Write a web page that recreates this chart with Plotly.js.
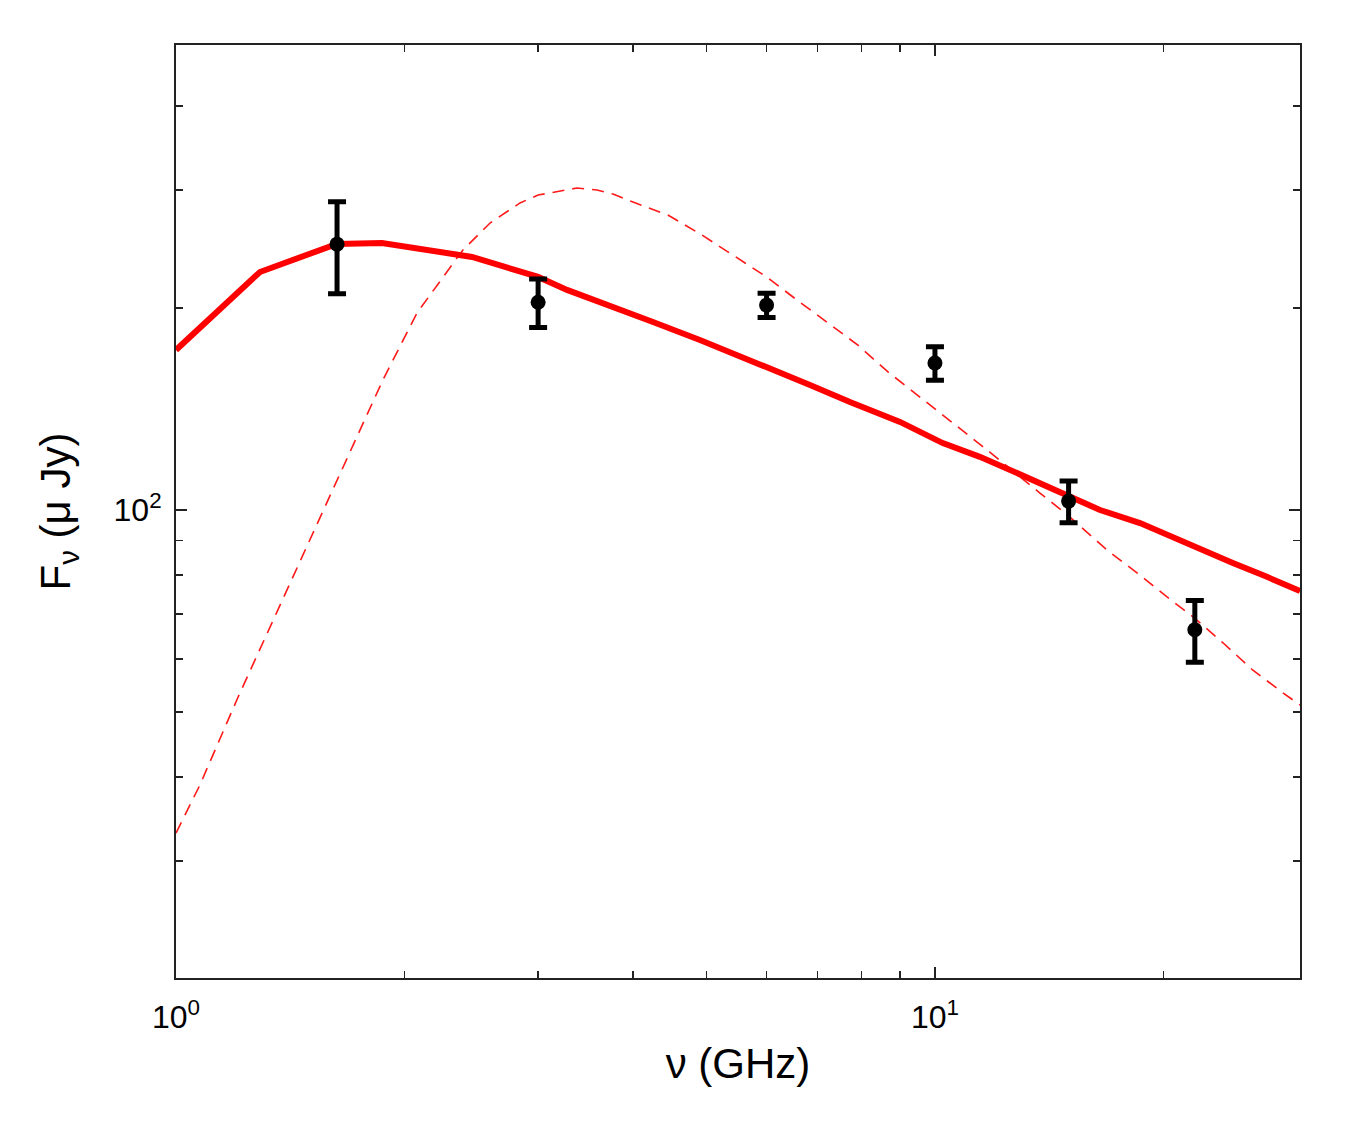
<!DOCTYPE html>
<html>
<head>
<meta charset="utf-8">
<script src="https://cdn.plot.ly/plotly-3.0.1.min.js"></script>
<style>html,body{margin:0;padding:0;background:#fff;}</style>
</head>
<body>
<div id="chart" style="width:1353px;height:1134px;"></div>
<script>
// Observed flux densities
const freqObs = [1.63, 3.0, 6.0, 10.0, 15.0, 22.0];
const fluxObs = [249, 204, 202, 165.6, 103.1, 66.3];
const fluxErr = [39, 17, 8.4, 9.5, 7.4, 7.0];

// Solid model curve
const freqModel = [1.0, 1.29, 1.629, 1.868, 2.455, 3.0, 3.275, 3.811, 4.251, 4.901, 5.705, 6.249, 6.844, 7.727, 8.994, 10.24, 11.46, 12.83, 15.06, 16.5, 18.63, 21.21, 24.69, 27.38, 30.27];
const fluxModel = [173.2, 226.3, 249.2, 250.0, 238.3, 222.5, 212.8, 200.0, 190.6, 179.2, 167.3, 160.6, 153.6, 144.9, 135.3, 125.8, 120.0, 113.5, 104.6, 100.0, 95.6, 89.6, 83.4, 79.5, 75.7];

// Dashed model curve
const freqDash = [1.0, 1.075, 1.207, 1.33, 1.4, 1.501, 1.576, 1.873, 2.078, 2.388, 2.593, 2.84, 3.0, 3.376, 3.586, 3.765, 4.001, 4.448, 4.932, 5.418, 6.0, 6.579, 7.228, 7.915, 8.672, 9.469, 10.37, 11.81, 13.75, 15.06, 16.85, 18.46, 20.22, 21.88, 23.96, 26.24, 28.74, 30.27];
const fluxDash = [33.0, 38.9, 52.6, 66.9, 76.0, 90.2, 102.1, 156.2, 196.7, 244.1, 267.7, 286.8, 294.7, 301.9, 299.8, 295.7, 287.7, 275.2, 256.9, 239.9, 222.5, 205.6, 189.9, 176.1, 160.6, 148.4, 137.1, 122.0, 106.0, 97.6, 87.2, 80.6, 74.2, 69.3, 63.4, 57.7, 53.4, 51.2];

// Axis ticks
const xTickVals = [1, 10];
const xTickText = ['10<sup>0</sup>', '10<sup>1</sup>'];
const xMinorVals = [2, 3, 4, 5, 6, 7, 8, 9, 20];
const yTickVals = [100];
const yTickText = ['10<sup>2</sup>'];
const yMinorVals = [30, 40, 50, 60, 70, 80, 90, 200, 300, 400];

const traces = [
  {
    x: freqDash, y: fluxDash, type: 'scatter', mode: 'lines',
    line: {color: '#ff1a1a', width: 1.6, dash: '12px,8px'},
    hoverinfo: 'skip'
  },
  {
    x: freqModel, y: fluxModel, type: 'scatter', mode: 'lines',
    line: {color: '#ff0000', width: 6},
    hoverinfo: 'skip'
  },
  {
    x: freqObs, y: fluxObs, type: 'scatter', mode: 'markers',
    marker: {color: '#000', size: 15},
    error_y: {type: 'data', array: fluxErr, visible: true, color: '#000', thickness: 5, width: 9}
  }
];

const font = 'Liberation Sans, Arial, Helvetica, sans-serif';

const layout = {
  width: 1353, height: 1134,
  margin: {l: 176, r: 53, t: 45, b: 156},
  paper_bgcolor: '#fff', plot_bgcolor: '#fff',
  showlegend: false,
  font: {family: font, color: '#000', size: 32},
  xaxis: {
    type: 'log', range: [0, 1.481],
    tickmode: 'array', tickvals: xTickVals, ticktext: xTickText,
    ticks: 'inside', ticklen: 11, tickwidth: 1.5, tickcolor: '#222',
    minor: {tickmode: 'array', tickvals: xMinorVals, ticks: 'inside', ticklen: 7, tickwidth: 1.5, tickcolor: '#222'},
    showline: true, linecolor: '#222', linewidth: 2, mirror: 'allticks',
    showgrid: false, zeroline: false,
    ticklabelstandoff: 10,
    tickfont: {family: font, size: 32, color: '#000'},
    title: {text: 'ν (GHz)', font: {family: font, size: 42, color: '#000'}, standoff: 14}
  },
  yaxis: {
    type: 'log', range: [1.3025, 2.693],
    tickmode: 'array', tickvals: yTickVals, ticktext: yTickText,
    ticks: 'inside', ticklen: 11, tickwidth: 1.5, tickcolor: '#222',
    minor: {tickmode: 'array', tickvals: yMinorVals, ticks: 'inside', ticklen: 7, tickwidth: 1.5, tickcolor: '#222'},
    showline: true, linecolor: '#222', linewidth: 2, mirror: 'allticks',
    showgrid: false, zeroline: false,
    ticklabelstandoff: 6,
    tickfont: {family: font, size: 32, color: '#000'},
    title: {text: 'F<sub>ν</sub> (μ Jy)', font: {family: font, size: 42, color: '#000'}, standoff: 30}
  }
};

Plotly.newPlot('chart', traces, layout, {displayModeBar: false, staticPlot: true});
</script>
</body>
</html>
